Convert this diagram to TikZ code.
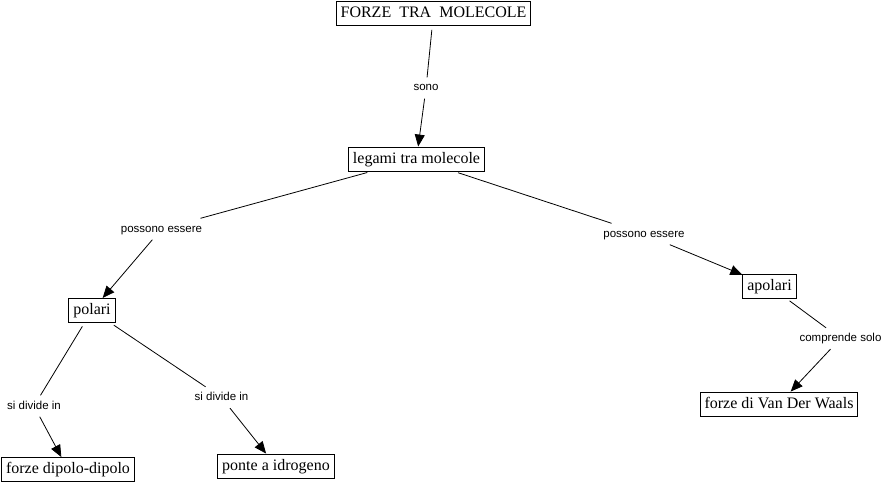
\documentclass[tikz,border=0pt]{standalone}
\usepackage{fontspec}
\setmainfont{Liberation Serif}
\newfontfamily\labfont{Liberation Sans}
\usetikzlibrary{arrows.meta}
\begin{document}
\begin{tikzpicture}[x=1pt,y=-1pt,
  concept/.style={draw, line width=0.9pt, font=\fontsize{16}{18}\selectfont,
    inner xsep=4.5pt, inner ysep=4.5pt, text height=11.5pt, text depth=3.5pt},
  linklabel/.style={font=\labfont\fontsize{11.5}{13}\selectfont, inner sep=5pt,
    text height=8.5pt, text depth=2.5pt},
  conn/.style={line width=0.8pt, shorten <=4pt},
  arr/.style={line width=0.8pt, -{Triangle[length=12pt,width=10pt]}}]
\useasboundingbox (0,0) rectangle (893,484);

% concepts
\node[concept] (top) at (433.5,13.5) {FORZE\ \ TRA\ \ MOLECOLE};
\node[concept] (leg) at (416.5,159) {legami tra molecole};
\node[concept] (pol) at (92,310.5) {polari};
\node[concept] (apo) at (769.5,286) {apolari};
\node[concept] (vdw) at (779,404) {forze di Van Der Waals};
\node[concept] (dip) at (68,469.5) {forze dipolo-dipolo};
\node[concept] (pon) at (276,466) {ponte a idrogeno};

% link labels
\node[linklabel] (sono) at (426,88) {sono};
\node[linklabel] (pe1) at (161.5,229) {possono essere};
\node[linklabel] (pe2) at (644,234) {possono essere};
\node[linklabel] (cs) at (840.5,338.5) {comprende solo};
\node[linklabel] (sd1) at (34,406) {si divide in};
\node[linklabel] (sd2) at (221.5,397.5) {si divide in};

% connectors
\draw[conn] (top) -- (sono);
\draw[arr] (sono) -- (leg);
\draw[conn] (leg) -- (pe1);
\draw[arr] (pe1) -- (pol);
\draw[conn] (leg) -- (pe2);
\draw[arr] (pe2) -- (apo);
\draw[conn] (apo) -- (cs);
\draw[arr] (cs) -- (vdw);
\draw[conn] (pol) -- (sd1);
\draw[arr] (sd1) -- (dip);
\draw[conn] (pol) -- (sd2);
\draw[arr] (sd2) -- (pon);
\end{tikzpicture}
\end{document}
